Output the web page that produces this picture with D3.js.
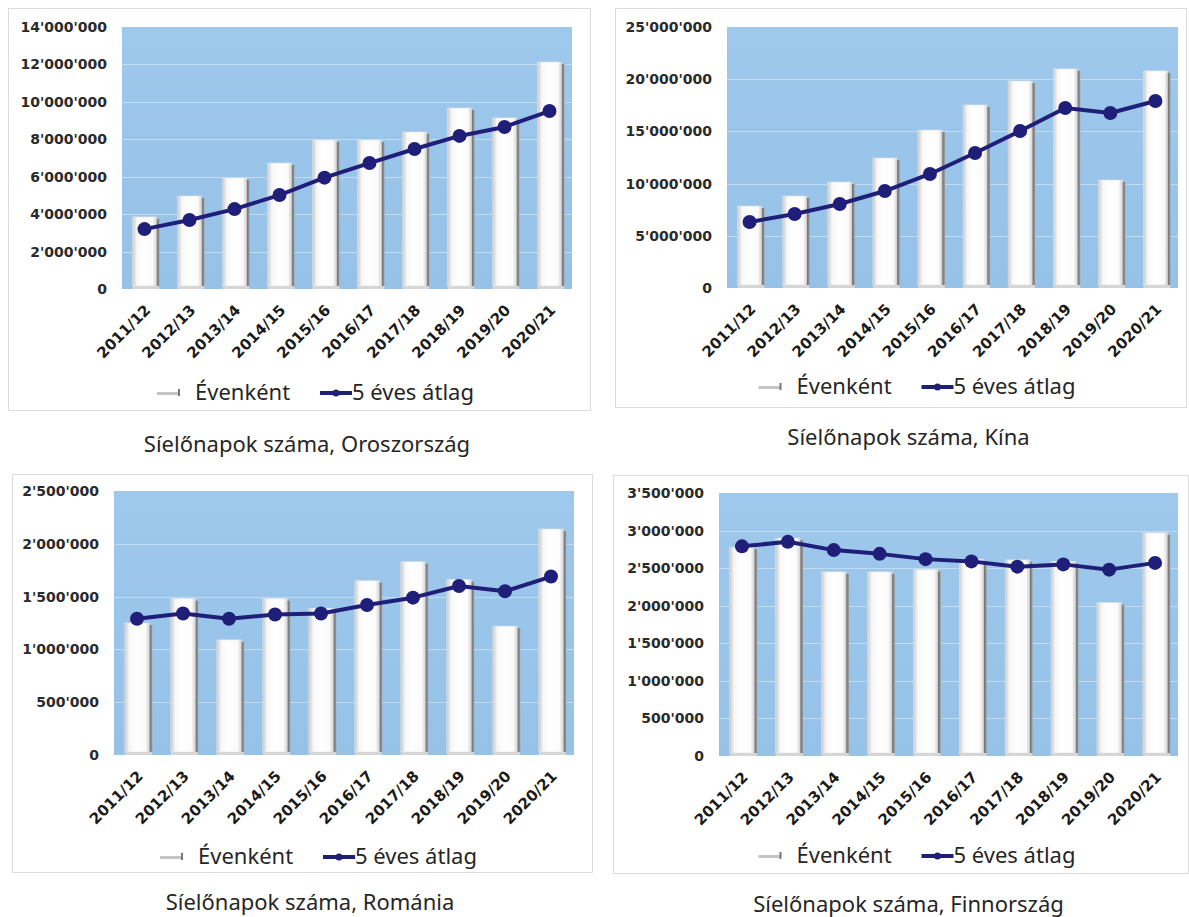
<!DOCTYPE html>
<html>
<head>
<meta charset="utf-8">
<script src="https://cdn.jsdelivr.net/npm/d3@7"></script>
<style>
  html, body { margin: 0; padding: 0; background: #ffffff; }
  svg { display: block; }
</style>
</head>
<body>
<svg id="chart" width="1189" height="917"></svg>
<script>
// ---- Data ----
const seasons = ["2011/12","2012/13","2013/14","2014/15","2015/16","2016/17","2017/18","2018/19","2019/20","2020/21"];

const russiaYearly  = [3850000, 4970000, 5930000, 6730000, 7960000, 7960000, 8390000, 9670000, 9140000, 12130000];
const russiaAvg     = [3200000, 3690000, 4270000, 5020000, 5950000, 6730000, 7480000, 8180000, 8660000, 9510000];
const russiaTicks   = [0, 2000000, 4000000, 6000000, 8000000, 10000000, 12000000, 14000000];

const chinaYearly   = [7850000, 8810000, 10150000, 12450000, 15130000, 17530000, 19830000, 20980000, 10340000, 20790000];
const chinaAvg      = [6320000, 7090000, 8050000, 9290000, 10920000, 12930000, 15040000, 17240000, 16760000, 17910000];
const chinaTicks    = [0, 5000000, 10000000, 15000000, 20000000, 25000000];

const romaniaYearly = [1250000, 1480000, 1090000, 1480000, 1390000, 1650000, 1830000, 1660000, 1220000, 2140000];
const romaniaAvg    = [1290000, 1340000, 1290000, 1330000, 1340000, 1420000, 1490000, 1600000, 1550000, 1690000];
const romaniaTicks  = [0, 500000, 1000000, 1500000, 2000000, 2500000];

const finlandYearly = [2780000, 2900000, 2450000, 2450000, 2480000, 2620000, 2610000, 2590000, 2040000, 2970000];
const finlandAvg    = [2790000, 2850000, 2740000, 2690000, 2620000, 2590000, 2520000, 2550000, 2480000, 2570000];
const finlandTicks  = [0, 500000, 1000000, 1500000, 2000000, 2500000, 3000000, 3500000];

const legendLabels = ["Évenként", "5 éves átlag"];
const titles = ["Síelőnapok száma, Oroszország", "Síelőnapok száma, Kína", "Síelőnapok száma, Románia", "Síelőnapok száma, Finnország"];

// ---- Drawing ----
const svg = d3.select("#chart");
const locale = d3.formatLocale({decimal: ".", thousands: "'", grouping: [3], currency: ["", ""]});
const fmt = locale.format(",d");

const defs = svg.append("defs");
const barGrad = defs.append("linearGradient").attr("id", "barGrad").attr("x1", "0").attr("x2", "1").attr("y1", "0").attr("y2", "0");
barGrad.append("stop").attr("offset", "0%").attr("stop-color", "#c9c9c9");
barGrad.append("stop").attr("offset", "18%").attr("stop-color", "#f7f7f7");
barGrad.append("stop").attr("offset", "45%").attr("stop-color", "#ffffff");
barGrad.append("stop").attr("offset", "85%").attr("stop-color", "#fbfbfb");
barGrad.append("stop").attr("offset", "100%").attr("stop-color", "#d4d4d4");
const shGrad = defs.append("linearGradient").attr("id", "shGrad").attr("x1", "0").attr("x2", "1").attr("y1", "0").attr("y2", "0");
shGrad.append("stop").attr("offset", "0%").attr("stop-color", "#5a5a5a");
shGrad.append("stop").attr("offset", "100%").attr("stop-color", "#9a9a9a");
const bgGrad = defs.append("linearGradient").attr("id", "bgGrad").attr("x1", "0").attr("x2", "0").attr("y1", "0").attr("y2", "1");
bgGrad.append("stop").attr("offset", "0%").attr("stop-color", "#9ec8ec");
bgGrad.append("stop").attr("offset", "100%").attr("stop-color", "#96c2e8");

const panels = [
  {box: [8, 8, 590, 410],    plot: [122, 27, 572, 289],  yearly: russiaYearly,  avg: russiaAvg,  ticks: russiaTicks,  legendY: 392, titleY: 452, title: titles[0]},
  {box: [615, 8, 1186, 407], plot: [727, 27, 1178, 288], yearly: chinaYearly,   avg: chinaAvg,   ticks: chinaTicks,   legendY: 386, titleY: 445, title: titles[1]},
  {box: [12, 474, 592, 872], plot: [114, 491, 574, 755], yearly: romaniaYearly, avg: romaniaAvg, ticks: romaniaTicks, legendY: 856, titleY: 910, title: titles[2]},
  {box: [613, 475, 1188, 873], plot: [719, 493, 1178, 756], yearly: finlandYearly, avg: finlandAvg, ticks: finlandTicks, legendY: 855, titleY: 912, title: titles[3]}
];

panels.forEach(p => {
  const [bx0, by0, bx1, by1] = p.box;
  const [px0, py0, px1, py1] = p.plot;
  const g = svg.append("g");

  g.append("rect").attr("x", bx0 + 0.5).attr("y", by0 + 0.5).attr("width", bx1 - bx0).attr("height", by1 - by0)
    .attr("fill", "#ffffff").attr("stroke", "#dcdcdc").attr("stroke-width", 1);

  const x = d3.scaleBand().domain(seasons).range([px0, px1]).paddingInner(0.47).paddingOuter(0.235);
  const y = d3.scaleLinear().domain([0, d3.max(p.ticks)]).range([py1, py0]);

  g.append("rect").attr("x", px0).attr("y", py0).attr("width", px1 - px0).attr("height", py1 - py0).attr("fill", "url(#bgGrad)");

  // gridlines
  g.append("g").selectAll("line").data(p.ticks.slice(1, -1)).join("line")
    .attr("x1", px0).attr("x2", px1)
    .attr("y1", d => Math.round(y(d)) + 0.5).attr("y2", d => Math.round(y(d)) + 0.5)
    .attr("stroke", "#c2ddf3").attr("stroke-width", 1);

  // y axis
  const yAxis = d3.axisLeft(y).tickValues(p.ticks).tickFormat(fmt).tickSize(0).tickPadding(15);
  const ya = g.append("g").attr("transform", `translate(${px0},0)`).call(yAxis);
  ya.select(".domain").remove();
  ya.selectAll("text").attr("font-family", "DejaVu Sans, Verdana, sans-serif").attr("font-weight", "bold")
    .attr("font-size", "14px").attr("fill", "#2a2a2a");

  // bars
  const bw = x.bandwidth();
  const bars = g.append("g");
  bars.selectAll("rect.sh").data(p.yearly).join("rect").attr("class", "sh")
    .attr("x", (d, i) => x(seasons[i]) + bw - 1).attr("y", d => y(d) + 2)
    .attr("width", 4).attr("height", d => py1 - y(d) - 2).attr("fill", "url(#shGrad)");
  bars.selectAll("rect.bar").data(p.yearly).join("rect").attr("class", "bar")
    .attr("x", (d, i) => x(seasons[i])).attr("y", d => y(d))
    .attr("width", bw).attr("height", d => py1 - y(d) - 3).attr("fill", "url(#barGrad)")
    .attr("stroke", "#e4e4e4").attr("stroke-width", 0.6);
  bars.selectAll("rect.base").data(p.yearly).join("rect").attr("class", "base")
    .attr("x", (d, i) => x(seasons[i])).attr("y", py1 - 3)
    .attr("width", bw + 3).attr("height", 3).attr("fill", "#d6d6d6");

  // x labels
  g.append("g").selectAll("text").data(seasons).join("text")
    .attr("transform", d => `translate(${x(d) + bw / 2 + 7},${py1 + 22}) rotate(-45)`)
    .attr("text-anchor", "end")
    .attr("font-family", "DejaVu Sans, Verdana, sans-serif").attr("font-weight", "bold")
    .attr("font-size", "15px").attr("fill", "#1a1a1a")
    .text(d => d);

  // 5-year average line
  const line = d3.line().x((d, i) => x(seasons[i]) + bw / 2).y(d => y(d));
  g.append("path").datum(p.avg).attr("d", line).attr("fill", "none")
    .attr("stroke", "#1f1f7a").attr("stroke-width", 4).attr("stroke-linejoin", "round");
  g.append("g").selectAll("circle").data(p.avg).join("circle")
    .attr("cx", (d, i) => x(seasons[i]) + bw / 2).attr("cy", d => y(d)).attr("r", 7)
    .attr("fill", "#1f1f7a");

  // legend
  const cx = (bx0 + bx1) / 2 + 20;
  const lx = cx - 162;
  const lg = g.append("g").attr("transform", `translate(${lx},${p.legendY})`);
  lg.append("rect").attr("x", 0).attr("y", 0).attr("width", 22).attr("height", 3).attr("fill", "#c4c4c4");
  lg.append("rect").attr("x", 21).attr("y", -3).attr("width", 2).attr("height", 7).attr("fill", "#777");
  lg.append("text").attr("x", 38).attr("y", 8).attr("font-family", "Noto Sans, sans-serif").attr("font-size", "22px")
    .attr("fill", "#262626").text(legendLabels[0]);
  lg.append("line").attr("x1", 163).attr("x2", 195).attr("y1", 1).attr("y2", 1).attr("stroke", "#1f1f7a").attr("stroke-width", 4);
  lg.append("circle").attr("cx", 179).attr("cy", 1).attr("r", 3.5).attr("fill", "#1f1f7a");
  lg.append("text").attr("x", 195).attr("y", 8).attr("font-family", "Noto Sans, sans-serif").attr("font-size", "22px")
    .attr("fill", "#262626").text(legendLabels[1]);

  // title under box
  g.append("text").attr("x", (bx0 + bx1) / 2 + 8).attr("y", p.titleY).attr("text-anchor", "middle")
    .attr("font-family", "Noto Sans, sans-serif").attr("font-size", "22px").attr("fill", "#262626")
    .text(p.title);
});
</script>
</body>
</html>
